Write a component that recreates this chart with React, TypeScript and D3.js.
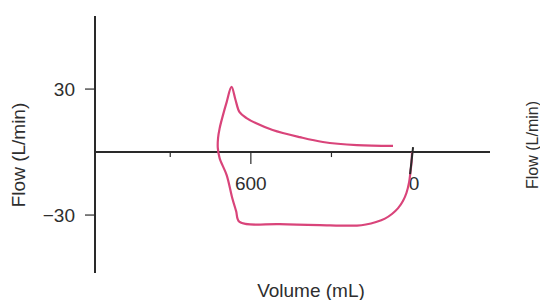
import { useEffect, useRef } from "react";
import * as d3 from "d3";

// flow-volume loop, volume in mL (axis reversed), flow in L/min
const loopVolume = [0, 2, 6, 11, 21, 34, 52, 75, 101, 134, 172, 205, 343, 493, 642, 655, 669, 690, 716, 723, 722, 716, 705, 690, 672, 657, 642, 616, 582, 519, 418, 332, 205, 71];
const loopFlow = [0, -4.8, -9.5, -14.3, -19.5, -23.3, -26.7, -29.5, -31.7, -33.3, -34.5, -35, -34.8, -34.3, -33.3, -28, -22, -11, -3, 2, 6.7, 11.4, 17, 23.8, 31, 24.8, 19, 16.2, 13.8, 10.5, 7.1, 4.8, 3.3, 2.9];

const flowTicks = [30, -30];
const volumeTicks = [900, 600, 300, 0];
const volumeLabels = ["", "600", "", "0"];

export default function App() {
	const ref = useRef<SVGSVGElement>(null);

	useEffect(() => {
		const svg = d3.select(ref.current);
		svg.selectAll("*").remove();

		const x = d3.scaleLinear().domain([1180, -290]).range([95, 490]);
		const y = d3.scaleLinear().domain([64.8, -57.6]).range([16, 273]);

		const font = "Liberation Sans, Arial, sans-serif";
		const axisColor = "#2a2a2a";
		const textColor = "#2e2e2e";

		// Axes lines
		svg.append("line")
			.attr("x1", x(1180)).attr("x2", x(1180))
			.attr("y1", y(64.8)).attr("y2", y(-57.6))
			.attr("stroke", axisColor).attr("stroke-width", 2);

		svg.append("line")
			.attr("x1", x(1180)).attr("x2", x(-290))
			.attr("y1", y(0)).attr("y2", y(0))
			.attr("stroke", axisColor).attr("stroke-width", 2);

		// Y ticks
		flowTicks.forEach(t => {
			svg.append("line")
				.attr("x1", x(1180) - 10).attr("x2", x(1180))
				.attr("y1", y(t)).attr("y2", y(t))
				.attr("stroke", axisColor).attr("stroke-width", 1.2);
			svg.append("text")
				.attr("x", x(1180) - 20)
				.attr("y", y(t) + 7)
				.attr("text-anchor", "end")
				.attr("font-family", font)
				.attr("font-size", 19)
				.attr("fill", textColor)
				.text(t < 0 ? "\u221230" : String(t));
		});

		// X ticks (different lengths as in the figure)
		const tickLen = [5, 12, 5, 0];
		volumeTicks.forEach((t, i) => {
			if (tickLen[i] > 0) {
				svg.append("line")
					.attr("x1", x(t)).attr("x2", x(t))
					.attr("y1", y(0)).attr("y2", y(0) + tickLen[i])
					.attr("stroke", axisColor).attr("stroke-width", 1.2);
			}
			if (volumeLabels[i]) {
				svg.append("text")
					.attr("x", x(t) + (t === 0 ? 2 : 0))
					.attr("y", y(0) + 38)
					.attr("text-anchor", "middle")
					.attr("font-family", font)
					.attr("font-size", 19)
					.attr("fill", textColor)
					.text(volumeLabels[i]);
			}
		});

		// Loop curve
		const pts = loopVolume.map((v, i) => [v, loopFlow[i]] as [number, number]);
		const line = d3.line<[number, number]>()
			.x(d => x(d[0]))
			.y(d => y(d[1]))
			.curve(d3.curveCatmullRom.alpha(0.5));

		svg.append("path")
			.attr("d", line(pts))
			.attr("fill", "none")
			.attr("stroke", "#d9447a")
			.attr("stroke-width", 2.2)
			.attr("stroke-linejoin", "round");

		// zero tick drawn over the curve start
		svg.append("line")
			.attr("x1", x(0) + 1).attr("x2", x(0) - 2)
			.attr("y1", y(0) - 5).attr("y2", y(0) + 22)
			.attr("stroke", axisColor).attr("stroke-width", 2);

		// Axis labels
		svg.append("text")
			.attr("x", 311)
			.attr("y", 297)
			.attr("text-anchor", "middle")
			.attr("font-family", font)
			.attr("font-size", 19)
			.attr("fill", textColor)
			.text("Volume (mL)");

		svg.append("text")
			.attr("transform", "translate(25,155) rotate(-90)")
			.attr("text-anchor", "middle")
			.attr("font-family", font)
			.attr("font-size", 19)
			.attr("fill", textColor)
			.text("Flow (L/min)");

		// neighbouring panel's label, cut off at the right edge
		svg.append("text")
			.attr("transform", "translate(538,145) rotate(-90)")
			.attr("text-anchor", "middle")
			.attr("font-family", font)
			.attr("font-size", 16)
			.attr("fill", textColor)
			.text("Flow (L/min)");
	}, []);

	return (
		<svg
			ref={ref}
			width={540}
			height={300}
			style={{ position: "absolute", left: 0, top: 0, background: "#fff" }}
		/>
	);
}
